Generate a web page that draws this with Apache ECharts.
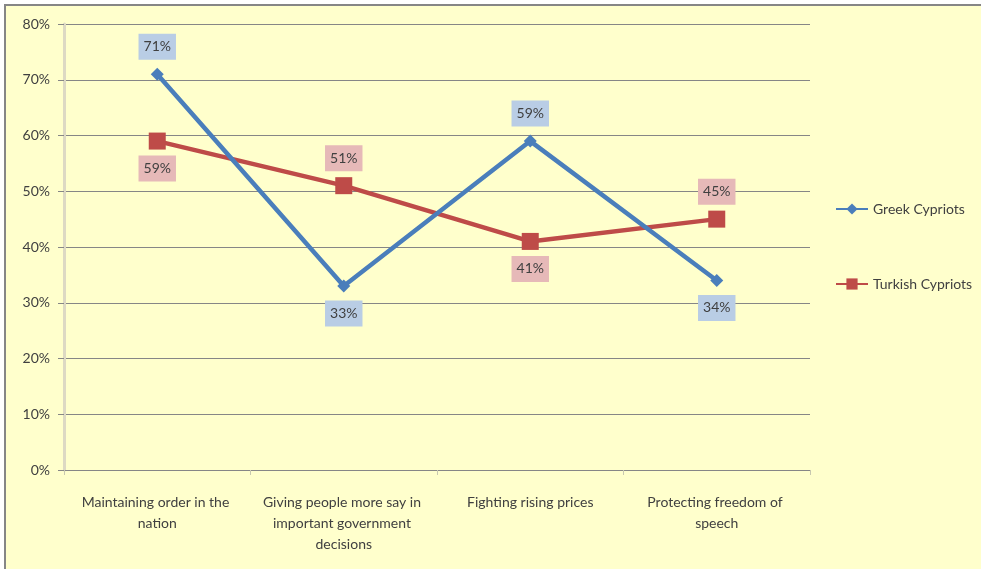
<!DOCTYPE html>
<html>
<head>
<meta charset="utf-8">
<script src="https://cdn.jsdelivr.net/npm/echarts@6/dist/echarts.min.js"></script>
<style>
  html, body { margin: 0; padding: 0; background: #fff; overflow: hidden; }
  #frame { position: absolute; left: 4px; top: 4px; width: 1000px; height: 600px;
           background: #FFFFCC; border-top: 2px solid #868686; border-left: 2px solid #868686; }
  #main { position: absolute; left: 0; top: 0; width: 981px; height: 569px; }
</style>
</head>
<body>
<div id="frame"></div>
<div id="main"></div>
<script>
var categories = ['Maintaining order in the nation', 'Giving people more say in important government decisions', 'Fighting rising prices', 'Protecting freedom of speech'];
var greek = [71, 33, 59, 34];
var turkish = [59, 51, 41, 45];
var yTicks = [0, 10, 20, 30, 40, 50, 60, 70, 80];

var font = 'Lato, "Liberation Sans", sans-serif';

// label above when the point is higher than the other series
function buildData(vals, other, bg) {
    return vals.map(function (v, i) {
        return {
            value: v,
            label: {
                position: v > other[i] ? 'top' : 'bottom',
                backgroundColor: bg
            }
        };
    });
}

var myChart = echarts.init(document.getElementById('main'));

var option = {
    backgroundColor: 'transparent',
    grid: { left: 64, right: 171, top: 24, bottom: 99 },
    legend: {
        orient: 'vertical',
        left: 835,
        top: 202,
        padding: 0,
        itemGap: 61,
        itemWidth: 32,
        itemHeight: 14,
        textStyle: { fontFamily: font, fontSize: 14, color: '#404040' },
        data: ['Greek Cypriots', 'Turkish Cypriots']
    },
    xAxis: {
        type: 'category',
        data: categories,
        axisLine: { lineStyle: { color: '#868686', width: 1 } },
        axisTick: { show: true, length: 5, lineStyle: { color: '#C8C8B0' } },
        axisLabel: {
            interval: 0,
            margin: 22,
            width: 172,
            overflow: 'break',
            lineHeight: 21,
            fontFamily: font,
            fontSize: 14,
            color: '#404040'
        }
    },
    yAxis: {
        type: 'value',
        min: yTicks[0],
        max: yTicks[yTicks.length - 1],
        interval: 10,
        axisLine: { show: true, lineStyle: { color: '#DDD9C3', width: 3 } },
        axisTick: { show: true, length: 6, lineStyle: { color: '#868686' } },
        splitLine: { lineStyle: { color: '#868686', width: 1 } },
        axisLabel: {
            margin: 14,
            formatter: '{value}%',
            fontFamily: font,
            fontSize: 14,
            color: '#404040'
        }
    },
    series: [{
        name: 'Greek Cypriots',
        type: 'line',
        data: buildData(greek, turkish, '#B9CDE5'),
        symbol: 'diamond',
        symbolSize: 13,
        itemStyle: { color: '#4A7EBB' },
        lineStyle: { color: '#4A7EBB', width: 4.5 },
        label: {
            show: true,
            formatter: '{c}%',
            distance: 8,
            padding: [6, 5],
            fontFamily: font,
            fontSize: 14,
            color: '#404040'
        },
        z: 3
    }, {
        name: 'Turkish Cypriots',
        type: 'line',
        data: buildData(turkish, greek, '#E6B9B8'),
        symbol: 'rect',
        symbolSize: 17,
        itemStyle: { color: '#BE4B48' },
        lineStyle: { color: '#BE4B48', width: 4.5 },
        label: {
            show: true,
            formatter: '{c}%',
            distance: 6,
            padding: [6, 5],
            fontFamily: font,
            fontSize: 14,
            color: '#404040'
        },
        z: 2
    }]
};

myChart.setOption(option);
</script>
</body>
</html>
